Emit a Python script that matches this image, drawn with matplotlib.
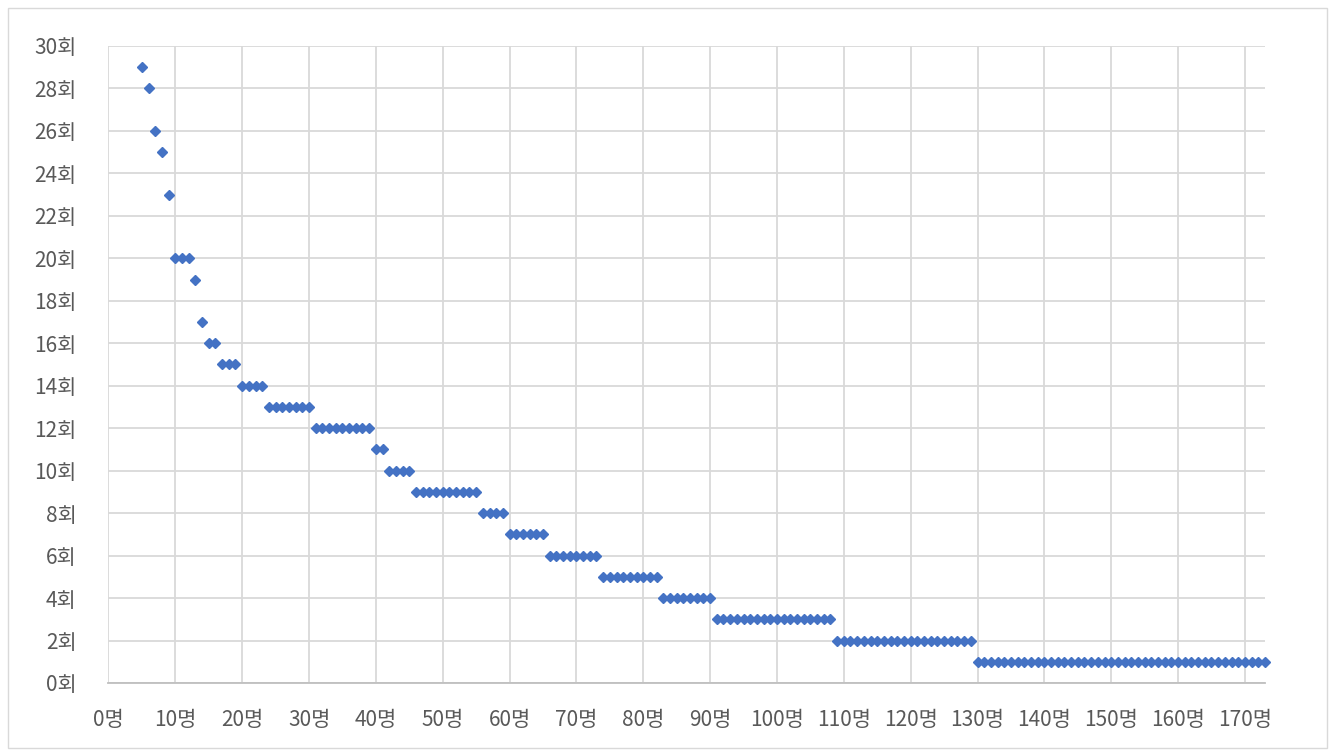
import matplotlib
matplotlib.use("Agg")
import matplotlib.pyplot as plt
import numpy as np
from matplotlib.patches import Rectangle

plt.rcParams["font.family"] = ["Noto Sans CJK KR", "DejaVu Sans"]

START_RANK = 5
LEVELS = [29, 28, 26, 25, 23, 20, 19, 17, 16, 15, 14, 13, 12, 11, 10, 9, 8, 7, 6, 5, 4, 3, 2, 1]
RUN_LENGTHS = [1, 1, 1, 1, 1, 3, 1, 1, 2, 3, 4, 7, 9, 2, 4, 10, 4, 6, 8, 9, 8, 18, 21, 44]

X_TICKS = list(range(0, 171, 10))
Y_TICKS = list(range(0, 31, 2))

counts = np.repeat(LEVELS, RUN_LENGTHS)
ranks = np.arange(START_RANK, START_RANK + len(counts))

BLUE = "#4472C4"
GRID = "#d9d9d9"
TEXT = "#595959"

fig = plt.figure(figsize=(13.39, 7.56), dpi=100)
ax = fig.add_axes([0.081, 0.0966, 0.8637, 0.8426])

ax.plot(ranks, counts, linestyle="none", marker="D", markersize=5.4,
        color=BLUE, markeredgecolor=BLUE, zorder=3, clip_on=False)

ax.set_xlim(0, 173)
ax.set_ylim(0, 30)
ax.set_xticks(X_TICKS)
ax.set_yticks(Y_TICKS)
ax.set_xticklabels([f"{v}명" for v in X_TICKS])
ax.set_yticklabels([f"{v}회" for v in Y_TICKS])
ax.grid(True, color=GRID, linewidth=1.3)
ax.set_axisbelow(True)
for side in ["top", "right", "left"]:
    ax.spines[side].set_visible(False)
ax.spines["bottom"].set_color("#bfbfbf")
ax.spines["bottom"].set_linewidth(1.3)
ax.tick_params(axis="both", length=0, colors=TEXT, labelsize=15)
ax.tick_params(axis="x", pad=19)
ax.tick_params(axis="y", pad=23)

fig.patches.append(Rectangle((0.006, 0.01), 0.985, 0.979, transform=fig.transFigure,
                             fill=False, edgecolor="#d9d9d9", linewidth=1.0))

fig.savefig("out.png", dpi=100, facecolor="white")
